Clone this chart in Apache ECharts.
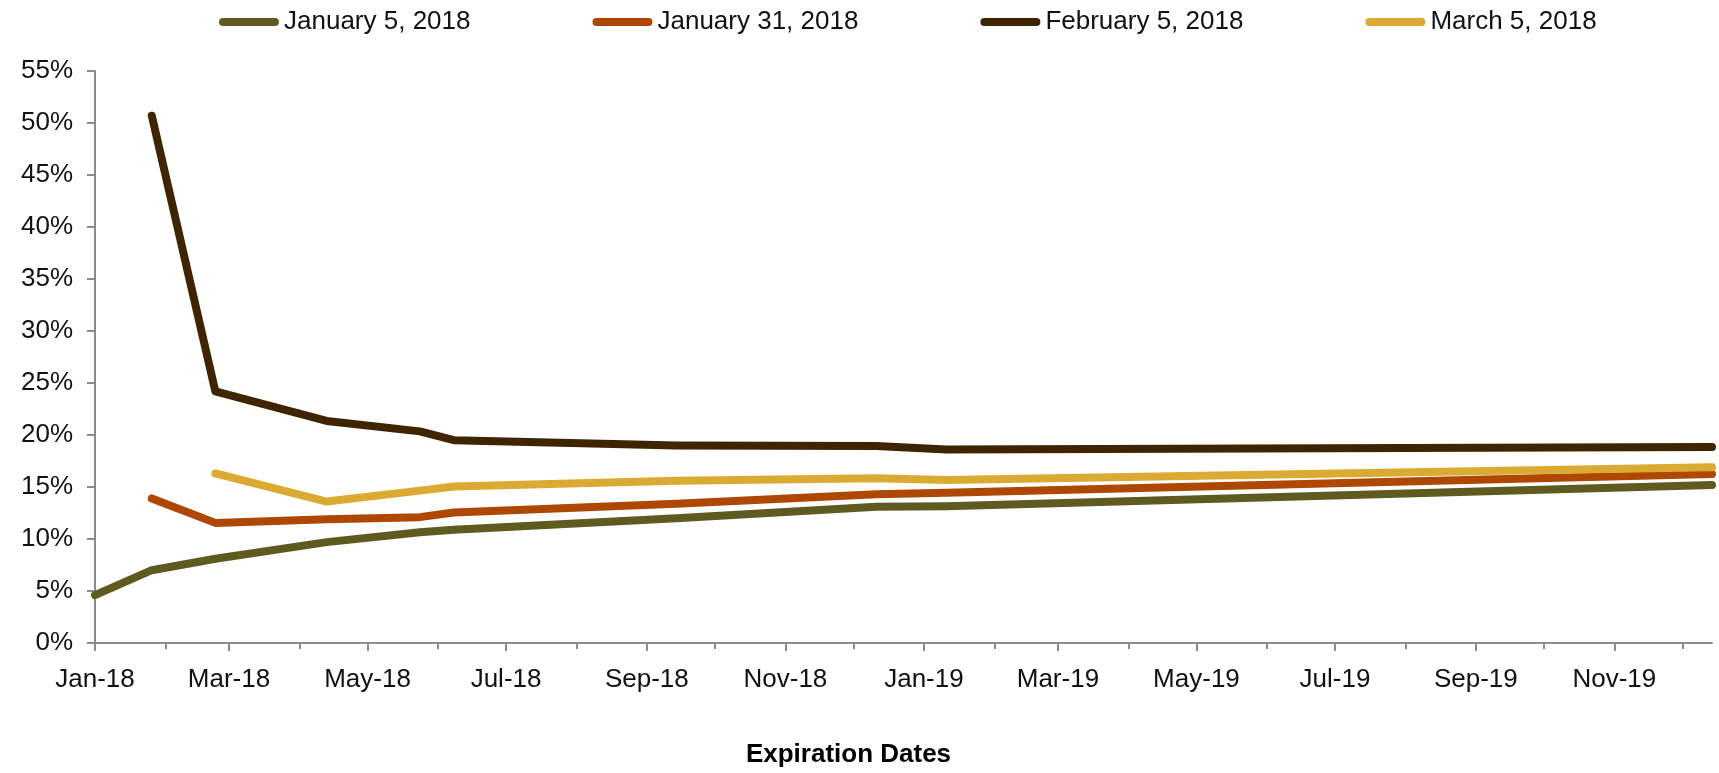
<!DOCTYPE html>
<html>
<head>
<meta charset="utf-8">
<script src="https://cdn.jsdelivr.net/npm/echarts@6/dist/echarts.min.js"></script>
<style>
  html, body { margin: 0; padding: 0; background: #ffffff; }
  #chart { width: 1719px; height: 773px; }
</style>
</head>
<body>
<div id="chart"></div>
<script>
// Term structure curves (percent) by expiration date, one curve per observation date
const seriesNames = ['January 5, 2018', 'January 31, 2018', 'February 5, 2018', 'March 5, 2018'];
const expiryDates = ['2018-01-01', '2018-01-26', '2018-02-23', '2018-04-13', '2018-05-24',
                     '2018-06-08', '2018-09-14', '2018-12-11', '2019-01-11', '2019-12-14'];
const jan5  = [4.6, 7.0, 8.1, 9.7, 10.65, 10.9, 12.0, 13.1, 13.15, 15.2];
const jan31 = [null, 13.9, 11.55, 11.9, 12.1, 12.55, 13.4, 14.3, 14.45, 16.25];
const feb5  = [null, 50.7, 24.2, 21.35, 20.35, 19.5, 19.0, 18.95, 18.6, 18.85];
const mar5  = [null, null, 16.3, 13.6, 14.65, 15.05, 15.6, 15.83, 15.67, 16.9];

const axisStart = '2018-01-01';
const axisEnd = '2019-12-14';
const monthNames = ['Jan', 'Feb', 'Mar', 'Apr', 'May', 'Jun', 'Jul', 'Aug', 'Sep', 'Oct', 'Nov', 'Dec'];
const axisYears = [2018, 2019];

const colors = ['#5E5A20', '#AE4700', '#3E2500', '#DBAA32'];
const FONT = 'Liberation Sans, Arial, sans-serif';

function toTime(s) {
  const p = s.split('-').map(Number);
  return new Date(p[0], p[1] - 1, p[2]).getTime();
}

// month starts: labelled months (Jan, Mar, ...) and the in-between months
const majorTicks = [];
const minorTicks = [];
axisYears.forEach(function (y) {
  for (let m = 0; m < 12; m++) {
    const t = new Date(y, m, 1).getTime();
    if (m % 2 === 0) majorTicks.push(t); else minorTicks.push(t);
  }
});

function pairs(values) {
  return values.map(function (v, i) { return [toTime(expiryDates[i]), v]; })
               .filter(function (p) { return p[1] !== null; });
}

const chart = echarts.init(document.getElementById('chart'), null, { renderer: 'canvas' });

const axisGray = '#8C8C8C';
const series = [jan5, jan31, feb5, mar5].map(function (vals, i) {
  return {
    name: seriesNames[i],
    type: 'line',
    xAxisIndex: 0,
    data: pairs(vals),
    symbol: 'none',
    color: colors[i],
    lineStyle: { width: 8, color: colors[i], cap: 'round', join: 'round' },
    z: 2 + i
  };
});

chart.setOption({
  animation: false,
  backgroundColor: '#ffffff',
  textStyle: { fontFamily: FONT },
  legend: {
    data: seriesNames,
    left: 214,
    top: 4,
    itemWidth: 60,
    itemHeight: 8,
    itemGap: 122,
    icon: 'path://M4,0 L56,0 A4,4 0 0 1 56,8 L4,8 A4,4 0 0 1 4,0 Z',
    textStyle: { fontSize: 26, color: '#111111', fontFamily: FONT }
  },
  grid: { left: 95, right: 7, top: 71, bottom: 126, containLabel: false },
  xAxis: [
    {
      type: 'value',
      min: toTime(axisStart),
      max: toTime(axisEnd),
      name: 'Expiration Dates',
      nameLocation: 'middle',
      nameGap: 99,
      nameTextStyle: { fontSize: 26, fontWeight: 'bold', color: '#000000', fontFamily: FONT, padding: [0, 110, 0, 0] },
      axisLine: { show: true, lineStyle: { color: axisGray, width: 2 } },
      axisTick: { show: true, customValues: majorTicks, length: 8, lineStyle: { color: axisGray, width: 2 } },
      axisLabel: {
        customValues: majorTicks,
        fontSize: 26,
        color: '#111111',
        fontFamily: FONT,
        margin: 24,
        hideOverlap: false,
        formatter: function (v) {
          const d = new Date(v);
          return monthNames[d.getMonth()] + '-' + String(d.getFullYear()).slice(2);
        }
      },
      splitLine: { show: false }
    },
    {
      type: 'value',
      min: toTime(axisStart),
      max: toTime(axisEnd),
      position: 'bottom',
      axisLine: { show: false },
      axisTick: { show: true, customValues: minorTicks, length: 6, lineStyle: { color: axisGray, width: 2 } },
      axisLabel: { show: false },
      splitLine: { show: false }
    }
  ],
  yAxis: {
    type: 'value',
    min: 0,
    max: 55,
    interval: 5,
    axisLine: { show: true, lineStyle: { color: axisGray, width: 2 } },
    axisTick: { show: true, length: 8, lineStyle: { color: axisGray, width: 2 } },
    axisLabel: { fontSize: 26, color: '#111111', fontFamily: FONT, margin: 22, formatter: '{value}%' },
    splitLine: { show: false }
  },
  series: series
});
</script>
</body>
</html>
